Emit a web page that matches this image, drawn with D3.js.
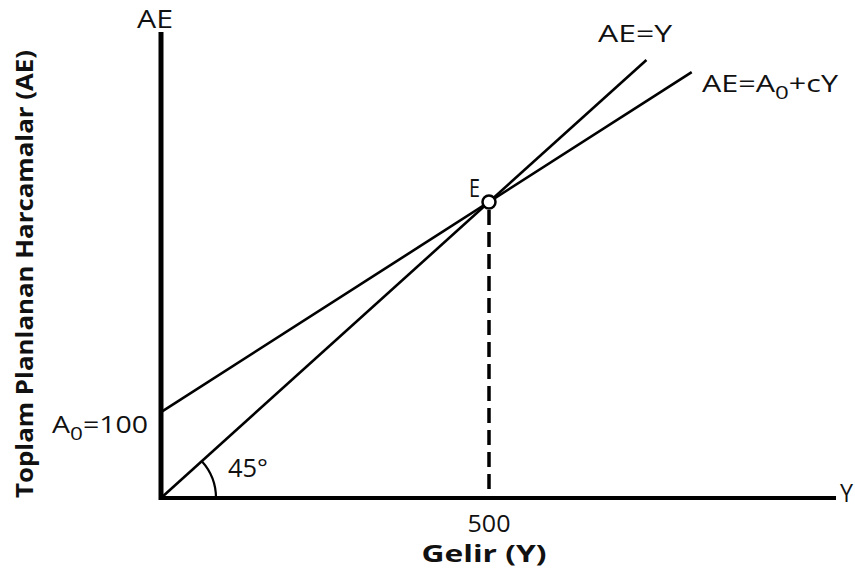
<!DOCTYPE html>
<html>
<head>
<meta charset="utf-8">
<script src="https://cdn.jsdelivr.net/npm/d3@7"></script>
<style>
  body { margin: 0; background: #fff; }
  text { font-family: "Open Sans", Lato, sans-serif; fill: #111; }
</style>
</head>
<body>
<script>
const width = 855;
const height = 584;

// values (income Y, planned expenditure AE)
const xAxisMax = 1029;
const yAxisMax = 787;
const incomeTicks = [500];
const equilibrium = [500, 500];
const line45 = [[0, 0], [740, 740]];
const a0Drawn = 145;
const mpc = 0.71;
const aeLineEnd = 809;

const svg = d3.select("body").append("svg")
    .attr("width", width)
    .attr("height", height);

const x = d3.scaleLinear().domain([0, 500]).range([161, 489]);
const y = d3.scaleLinear().domain([0, 500]).range([498, 202]);

const line = d3.line()
    .x((d) => x(d[0]))
    .y((d) => y(d[1]));

const aeLine = [[0, a0Drawn], [aeLineEnd, a0Drawn + mpc * aeLineEnd]];

// economic lines
[line45, aeLine].forEach(pts => {
    svg.append("path")
        .attr("d", line(pts))
        .attr("fill", "none")
        .attr("stroke", "#000")
        .attr("stroke-width", 2.6);
});

// 45 degree arc
const r = 55;
const ang = Math.atan2(y(0) - y(100), x(100) - x(0));
svg.append("path")
    .attr("d", `M${x(0) + r},${y(0)} A${r},${r} 0 0 0 ${x(0) + r * Math.cos(ang)},${y(0) - r * Math.sin(ang)}`)
    .attr("fill", "none")
    .attr("stroke", "#000")
    .attr("stroke-width", 2.2);

// dashed drop line from E
svg.append("line")
    .attr("x1", x(equilibrium[0])).attr("x2", x(equilibrium[0]))
    .attr("y1", y(equilibrium[1]) + 8).attr("y2", y(0))
    .attr("stroke", "#000")
    .attr("stroke-width", 3.5)
    .attr("stroke-dasharray", "15 7");

// axes
svg.append("line")
    .attr("x1", x(0)).attr("x2", x(0))
    .attr("y1", y(yAxisMax)).attr("y2", y(0) + 2)
    .attr("stroke", "#000").attr("stroke-width", 5);
svg.append("line")
    .attr("x1", x(0) - 2).attr("x2", x(xAxisMax))
    .attr("y1", y(0)).attr("y2", y(0))
    .attr("stroke", "#000").attr("stroke-width", 4);

// equilibrium point
svg.append("circle")
    .attr("cx", x(equilibrium[0]))
    .attr("cy", y(equilibrium[1]))
    .attr("r", 6.5)
    .attr("fill", "#fff")
    .attr("stroke", "#000")
    .attr("stroke-width", 2.5);

// labels (glyphs stretched a bit to match the wide original face)
function label(xp, yp, size, str, len) {
    return svg.append("text").attr("x", xp).attr("y", yp)
        .attr("font-size", size)
        .attr("textLength", len).attr("lengthAdjust", "spacingAndGlyphs")
        .text(str);
}

label(137, 28, 25, "AE", 36);
label(840, 502, 25, "Y", 13);
label(598, 42, 24, "AE=Y", 74);
label(469, 197, 26, "E", 11);
label(228, 477, 25, "45°", 40);

const t2 = svg.append("text").attr("x", 702).attr("y", 92).attr("font-size", 24)
    .attr("textLength", 136).attr("lengthAdjust", "spacingAndGlyphs");
t2.append("tspan").text("AE=A");
t2.append("tspan").attr("dy", 7).attr("font-size", 19).text("0");
t2.append("tspan").attr("dy", -7).text("+cY");

const t3 = svg.append("text").attr("x", 52).attr("y", 433).attr("font-size", 24)
    .attr("textLength", 96).attr("lengthAdjust", "spacingAndGlyphs");
t3.append("tspan").text("A");
t3.append("tspan").attr("dy", 7).attr("font-size", 19).text("0");
t3.append("tspan").attr("dy", -7).text("=100");

svg.selectAll(".tick-label")
    .data(incomeTicks)
    .enter().append("text")
    .attr("class", "tick-label")
    .attr("x", (d) => x(d))
    .attr("y", 532)
    .attr("text-anchor", "middle")
    .attr("font-size", 24)
    .attr("textLength", 43).attr("lengthAdjust", "spacingAndGlyphs")
    .text((d) => d);

svg.append("text").attr("x", 484).attr("y", 562)
    .attr("text-anchor", "middle").attr("font-size", 24)
    .attr("font-weight", "bold")
    .attr("textLength", 125).attr("lengthAdjust", "spacingAndGlyphs")
    .text("Gelir (Y)");

svg.append("text")
    .attr("transform", "translate(33,274) rotate(-90)")
    .attr("text-anchor", "middle").attr("font-size", 24)
    .attr("font-weight", "bold")
    .attr("textLength", 448).attr("lengthAdjust", "spacingAndGlyphs")
    .text("Toplam Planlanan Harcamalar (AE)");
</script>
</body>
</html>
